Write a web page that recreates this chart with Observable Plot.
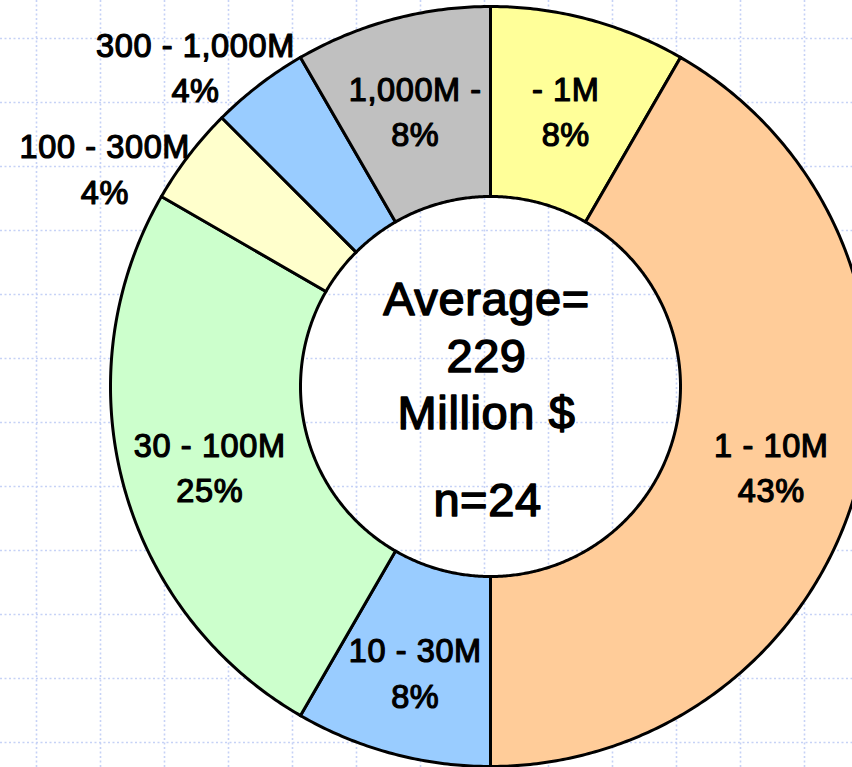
<!DOCTYPE html>
<html>
<head>
<meta charset="utf-8">
<script src="https://cdn.jsdelivr.net/npm/d3@7"></script>
<script src="https://cdn.jsdelivr.net/npm/@observablehq/plot@0.6"></script>
<style>
  html, body { margin: 0; padding: 0; background: #ffffff; }
  #chart svg { display: block; }
  #chart svg text { letter-spacing: 0.6px; }
</style>
</head>
<body>
<div id="chart"></div>
<script>
// ---- data ----
const categories = ["- 1M", "1 - 10M", "10 - 30M", "30 - 100M", "100 - 300M", "300 - 1,000M", "1,000M -"];
const counts = [2, 10, 2, 6, 1, 1, 2];               // n = 24 (slice angles)
const pctLabels = ["8%", "43%", "8%", "25%", "4%", "4%", "8%"];
const colors = ["#FFFF99", "#FFCC99", "#99CCFF", "#CCFFCC", "#FFFFCC", "#99CCFF", "#C0C0C0"];
const centerLines = ["Average=", "229", "Million $"];
const nLabel = "n=24";

// ---- layout constants (pixels) ----
const W = 852, H = 767;
const CX = 490, CY = 386, R = 380;   // donut centre and outer radius
const INNER = 0.5;                   // inner radius as fraction of outer
const GRID0X = 36, GRID0Y = 38, GRIDSTEP = 64;

// data units: outer radius = 1, centre at (0,0)
const xDomain = [(0 - CX) / R, (W - CX) / R];
const yDomain = [(CY - H) / R, CY / R];
const px2x = px => (px - CX) / R;
const py2y = py => (CY - py) / R;

const arcs = d3.pie().sort(null).value(d => d)(counts);

// polygon outline for each slice
const ring = [];
arcs.forEach((a, i) => {
  const n = Math.max(8, Math.ceil((a.endAngle - a.startAngle) / (Math.PI / 360)));
  for (let k = 0; k <= n; k++) {
    const t = a.startAngle + (a.endAngle - a.startAngle) * k / n;
    ring.push({cat: categories[i], color: colors[i], x: Math.sin(t), y: Math.cos(t)});
  }
  for (let k = n; k >= 0; k--) {
    const t = a.startAngle + (a.endAngle - a.startAngle) * k / n;
    ring.push({cat: categories[i], color: colors[i], x: INNER * Math.sin(t), y: INNER * Math.cos(t)});
  }
});

const labels = arcs.map((a, i) => {
  const m = (a.startAngle + a.endAngle) / 2;
  return {i, text: categories[i] + "\n" + pctLabels[i], mid: m};
});
const LR = 0.765;
const inside = labels.filter(d => ![4, 5].includes(d.i));
const OR = 1.15;

const gridXs = d3.range(GRID0X, W, GRIDSTEP).map(px2x);
const gridYs = d3.range(GRID0Y, H, GRIDSTEP).map(py2y);

const font = "'Liberation Sans', Arial, Helvetica, sans-serif";
const txt = {fill: "#000", stroke: "#000", strokeWidth: 1.2, textAnchor: "middle", lineAnchor: "middle"};
const lab = {...txt, text: "text", fontSize: 32.5, lineHeight: 1.4};

const chart = Plot.plot({
  width: W,
  height: H,
  margin: 0,
  x: {domain: xDomain, axis: null},
  y: {domain: yDomain, axis: null},
  color: {type: "identity"},
  style: {background: "#ffffff", fontFamily: font},
  marks: [
    Plot.ruleX(gridXs, {stroke: "#c6d2f6", strokeWidth: 1.6, strokeDasharray: "2,2.5"}),
    Plot.ruleY(gridYs, {stroke: "#c6d2f6", strokeWidth: 1.6, strokeDasharray: "2,2.5"}),
    Plot.line(ring, {
      x: "x", y: "y", z: "cat", fill: "color",
      stroke: "#000000", strokeWidth: 3, curve: "linear-closed", strokeLinejoin: "round"
    }),
    Plot.text(inside, {
      ...lab,
      x: d => LR * Math.sin(d.mid), y: d => LR * Math.cos(d.mid), dy: 3
    }),
    Plot.text(labels.filter(d => d.i === 4), {
      ...lab,
      x: d => OR * Math.sin(d.mid), y: d => OR * Math.cos(d.mid), dx: -39, dy: 46
    }),
    Plot.text(labels.filter(d => d.i === 5), {
      ...lab,
      x: d => OR * Math.sin(d.mid), y: d => OR * Math.cos(d.mid), dx: -29, dy: 25
    }),
    Plot.text([centerLines.join("\n")], {
      ...txt, strokeWidth: 1.5,
      x: 0, y: 0, text: d => d, fontSize: 47, lineHeight: 1.213, dx: -4, dy: -33
    }),
    Plot.text([nLabel], {
      ...txt, strokeWidth: 1.5,
      x: 0, y: 0, text: d => d, fontSize: 47, dx: -3, dy: 114
    })
  ]
});
document.getElementById("chart").appendChild(chart);
</script>
</body>
</html>
